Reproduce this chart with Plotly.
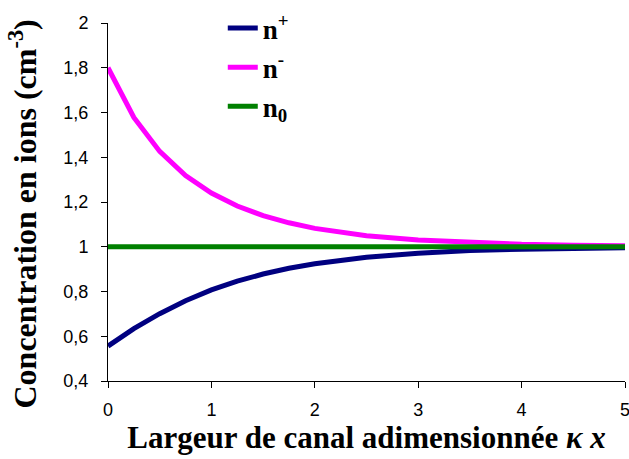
import plotly.graph_objects as go

x_vals = [0, 0.25, 0.5, 0.75, 1, 1.25, 1.5, 1.75, 2, 2.5, 3, 3.5, 4, 4.5, 5]
n_plus = [0.556, 0.634, 0.701, 0.759, 0.807, 0.846, 0.878, 0.904, 0.924, 0.953, 0.971, 0.983, 0.989, 0.994, 0.996]
n_minus = [1.80, 1.578, 1.426, 1.318, 1.240, 1.182, 1.139, 1.107, 1.082, 1.049, 1.030, 1.018, 1.011, 1.007, 1.004]
n_zero = [1.0] * len(x_vals)

y_tickvals = [0.4, 0.6, 0.8, 1.0, 1.2, 1.4, 1.6, 1.8, 2.0]
y_ticktext = ["0,4", "0,6", "0,8", "1", "1,2", "1,4", "1,6", "1,8", "2"]
x_tickvals = [0, 1, 2, 3, 4, 5]
x_ticktext = ["0", "1", "2", "3", "4", "5"]

names = ["<b>n<sup>+</sup></b>", "<b>n<sup>-</sup></b>", "<b>n<sub>0</sub></b>"]
colors = ["#000080", "#FF00FF", "#008000"]
series = [n_plus, n_minus, n_zero]

fig = go.Figure()
for i, (nm, col, ys) in enumerate(zip(names, colors, series)):
    fig.add_trace(go.Scatter(x=x_vals, y=ys, mode="lines", name=nm,
                             line=dict(color=col, width=5),
                             legendgroup=str(i)))

serif = "Liberation Serif"
axis_common = dict(showline=True, linecolor="black", linewidth=1, ticks="outside",
                   ticklen=6, tickcolor="black", showgrid=False, zeroline=False,
                   automargin=False, ticklabeloverflow="allow",
                   tickfont=dict(family="Liberation Sans", size=18, color="black"))

fig.update_layout(
    width=629, height=459,
    margin=dict(l=108, r=4, t=15, b=78),
    paper_bgcolor="white", plot_bgcolor="white",
    showlegend=True,
    legend=dict(x=0.222, y=1.053, xanchor="left", yanchor="top",
                font=dict(family=serif, size=27, color="black"),
                tracegroupgap=1, traceorder="grouped", bgcolor="rgba(0,0,0,0)"),
    xaxis=dict(range=[0, 5], tickvals=x_tickvals, ticktext=x_ticktext,
               ticklabelstandoff=6,
               title=dict(text="<b>Largeur de canal adimensionnée <i>κ x</i></b>",
                          font=dict(family=serif, size=31, color="black"),
                          standoff=0),
               **axis_common),
    yaxis=dict(range=[0.4, 2], tickvals=y_tickvals, ticktext=y_ticktext,
               ticklabelstandoff=9,
               **axis_common),
    annotations=[dict(text="<b>Concentration en ions (cm<sup>-3</sup>)</b>",
                      xref="paper", yref="paper", x=-0.165, y=0.467,
                      xanchor="center", yanchor="middle", textangle=-90,
                      showarrow=False,
                      font=dict(family=serif, size=32, color="black"))],
)
fig.write_html("out.html", config={"displayModeBar": False},
               post_script="document.body.style.margin='0';")
